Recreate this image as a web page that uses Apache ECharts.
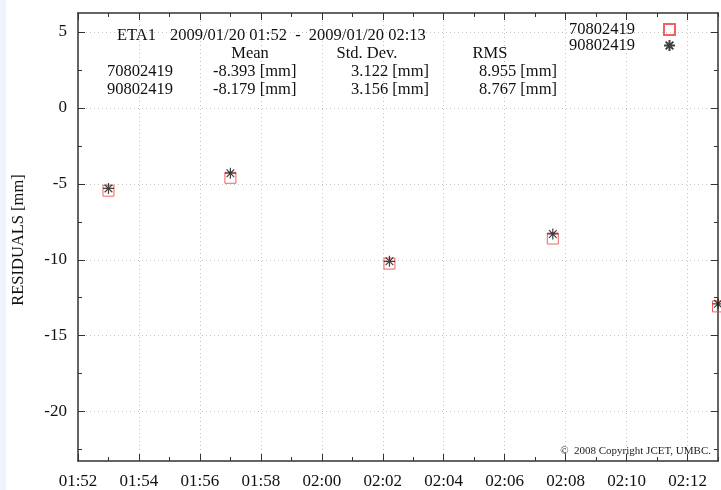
<!DOCTYPE html>
<html>
<head>
<meta charset="utf-8">
<style>
  html, body { margin: 0; padding: 0; background: #ffffff; }
  #chart { width: 721px; height: 490px; }
</style>
<script src="https://cdn.jsdelivr.net/npm/echarts@6/dist/echarts.min.js"></script>
</head>
<body>
<div id="chart"></div>
<script>
// Observation epochs, minutes after 00:00 on 2009/01/20
const epochMinutes = [113.0, 117.0, 122.22, 127.58, 133.0];
// Residuals in mm for each station/run
const series70802419 = [-5.45, -4.6, -10.25, -8.6, -13.07];
const series90802419 = [-5.3, -4.3, -10.1, -8.3, -12.9];
const seriesNames = ['70802419', '90802419'];

// Axis ticks
const xMajorTicks = [112, 114, 116, 118, 120, 122, 124, 126, 128, 130, 132];
const xMinorTicks = [113, 115, 117, 119, 121, 123, 125, 127, 129, 131, 133];
const yMajorTicks = [-20, -15, -10, -5, 0, 5];
const yMinorTicks = [-22.5, -17.5, -12.5, -7.5, -2.5, 2.5];

// Summary statistics block
const headerStation = 'ETA1';
const headerPeriod = '2009/01/20 01:52  -  2009/01/20 02:13';
const statColumns = ['Mean', 'Std. Dev.', 'RMS'];
const statMean = ['-8.393 [mm]', '-8.179 [mm]'];
const statStd = ['3.122 [mm]', '3.156 [mm]'];
const statRms = ['8.955 [mm]', '8.767 [mm]'];
const yAxisTitle = 'RESIDUALS [mm]';
const copyrightText = '\u00A9  2008 Copyright JCET, UMBC.';

const FONT = '"Liberation Serif", "Times New Roman", serif';
const AXIS_COLOR = '#333333';
const X_MIN = 112, X_MAX = 133;
const Y_MIN = -23.25, Y_MAX = 6.25;

function fmtTime(v) {
  const h = Math.floor(v / 60);
  const m = Math.round(v - h * 60);
  return String(h).padStart(2, '0') + ':' + String(m).padStart(2, '0');
}

const chart = echarts.init(document.getElementById('chart'), null, { renderer: 'canvas' });

function xAxisDef(pos, ticks, len, withLabels, withLine, withSplit) {
  return {
    type: 'value', position: pos, min: X_MIN, max: X_MAX,
    axisLine: { show: withLine, onZero: false, lineStyle: { color: AXIS_COLOR, width: 1.5 } },
    axisTick: { show: true, inside: true, length: len, customValues: ticks,
                lineStyle: { color: AXIS_COLOR, width: 1 } },
    axisLabel: withLabels ? {
      show: true, customValues: ticks, margin: 12, formatter: fmtTime,
      fontFamily: FONT, fontSize: 17, color: '#111'
    } : { show: false },
    splitLine: withSplit ? { show: true, lineStyle: { color: '#c4c4c4', type: [1, 3], width: 1 } } : { show: false }
  };
}

function yAxisDef(pos, ticks, len, withLabels, withLine, withSplit) {
  return {
    type: 'value', position: pos, min: Y_MIN, max: Y_MAX,
    axisLine: { show: withLine, onZero: false, lineStyle: { color: AXIS_COLOR, width: 1.5 } },
    axisTick: { show: true, inside: true, length: len, customValues: ticks,
                lineStyle: { color: AXIS_COLOR, width: 1 } },
    axisLabel: withLabels ? {
      show: true, customValues: ticks, margin: 11,
      fontFamily: FONT, fontSize: 17, color: '#111'
    } : { show: false },
    splitLine: withSplit ? { show: true, lineStyle: { color: '#c4c4c4', type: [1, 3], width: 1 } } : { show: false }
  };
}

function toPoints(vals) {
  return vals.map((v, i) => [epochMinutes[i], v]);
}

const statTexts = [];
function addText(text, x, y, align, size) {
  statTexts.push({
    type: 'text', x: x, y: y, z: 10,
    style: { text: text, fontFamily: FONT, fontSize: size || 16.5, fill: '#111',
             align: align || 'left', verticalAlign: 'middle' }
  });
}
addText(headerStation, 117, 36);
addText(headerPeriod, 170, 36);
addText(statColumns[0], 250, 54, 'center');
addText(statColumns[1], 367, 54, 'center');
addText(statColumns[2], 490, 54, 'center');
[72, 90].forEach((yy, i) => {
  addText(seriesNames[i], 107, yy);
  addText(statMean[i], 213, yy);
  addText(statStd[i], 429, yy, 'right');
  addText(statRms[i], 557, yy, 'right');
});

const option = {
  animation: false,
  backgroundColor: '#ffffff',
  grid: { left: 78, right: 3, top: 13, bottom: 27, containLabel: false },
  xAxis: [
    xAxisDef('bottom', xMajorTicks, 7, true, true, true),
    xAxisDef('bottom', xMinorTicks, 4, false, false, false),
    xAxisDef('top', xMajorTicks, 7, false, true, false),
    xAxisDef('top', xMinorTicks, 4, false, false, false)
  ],
  yAxis: [
    yAxisDef('left', yMajorTicks, 7, true, true, true),
    yAxisDef('left', yMinorTicks, 4, false, false, false),
    yAxisDef('right', yMajorTicks, 7, false, true, false),
    yAxisDef('right', yMinorTicks, 4, false, false, false)
  ],
  legend: {
    orient: 'vertical', right: 40, top: 16, align: 'right',
    itemWidth: 11, itemHeight: 11, itemGap: -1,
    textStyle: { fontFamily: FONT, fontSize: 16.5, color: '#111', padding: [0, 24, 0, 0] },
    data: seriesNames
  },
  graphic: [
    { type: 'rect', left: 0, top: 0, z: -10, shape: { width: 6, height: 490 },
      style: { fill: '#edf4fc' } },
    { type: 'text', right: 10, top: 446, z: 10,
      style: { text: copyrightText, fontFamily: FONT, fontSize: 11, fill: '#222' } },
    { type: 'text', x: 19, y: 240, rotation: Math.PI / 2, z: 10,
      style: { text: yAxisTitle, fontFamily: FONT, fontSize: 16.5, fill: '#111',
               align: 'center', verticalAlign: 'middle' } }
  ].concat(statTexts),
  series: [
    {
      name: seriesNames[0], type: 'scatter', xAxisIndex: 0, yAxisIndex: 0,
      symbol: 'rect', symbolSize: 11, clip: false,
      itemStyle: { color: 'rgba(255,255,255,0)', borderColor: '#f23a3a', borderWidth: 1 },
      data: toPoints(series70802419)
    },
    {
      name: seriesNames[1], type: 'scatter', xAxisIndex: 0, yAxisIndex: 0,
      symbol: 'path://M5 0L5 10M0 5L10 5M1.5 1.5L8.5 8.5M8.5 1.5L1.5 8.5',
      symbolSize: 11, clip: false,
      itemStyle: { color: 'rgba(0,0,0,0)', borderColor: '#111', borderWidth: 1.2 },
      data: toPoints(series90802419)
    }
  ]
};

chart.setOption(option);
</script>
</body>
</html>
